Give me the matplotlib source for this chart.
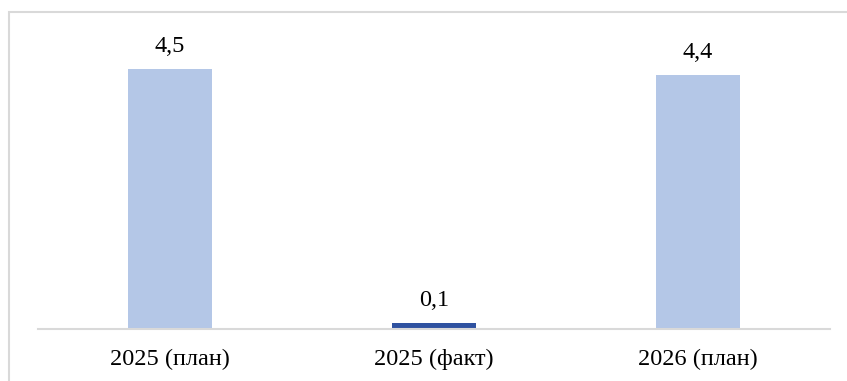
import matplotlib
matplotlib.use("Agg")
import matplotlib.pyplot as plt
from matplotlib.patches import Rectangle

categories = ["2025 (план)", "2025 (факт)", "2026 (план)"]
values = [4.5, 0.1, 4.4]
labels = ["4,5", "0,1", "4,4"]
colors = ["#B4C7E7", "#2F52A0", "#B4C7E7"]

plt.rcParams['font.family'] = ['Liberation Serif', 'DejaVu Serif']

W, H = 847, 381
fig = plt.figure(figsize=(W / 100, H / 100), dpi=100)
fig.patches.append(Rectangle((8.5 / W, -0.1), 1.2, (H - 11.5) / H + 0.1,
                             transform=fig.transFigure, fill=False,
                             edgecolor="#D9D9D9", linewidth=1.5))
ax = fig.add_axes([38 / W, 52 / H, (830 - 38) / W, 289 / H])
x = range(len(categories))
bars = ax.bar(x, values, width=0.315, color=colors)
for b, lab in zip(bars, labels):
    ax.annotate(lab, (b.get_x() + b.get_width() / 2, b.get_height()),
                xytext=(0, 8.5), textcoords="offset points",
                ha="center", va="bottom", fontsize=17.5, color="#000000")
ax.set_xlim(-0.5, 2.5)
ax.set_ylim(0, 5)
ax.set_xticks(list(x))
ax.set_xticklabels(categories, fontsize=17.5)
ax.tick_params(axis="x", length=0, pad=14)
ax.set_yticks([])
for s in ["top", "right", "left"]:
    ax.spines[s].set_visible(False)
ax.spines["bottom"].set_color("#D9D9D9")
ax.spines["bottom"].set_linewidth(1.5)
ax.patch.set_alpha(0)
fig.savefig("out.png", dpi=100)
